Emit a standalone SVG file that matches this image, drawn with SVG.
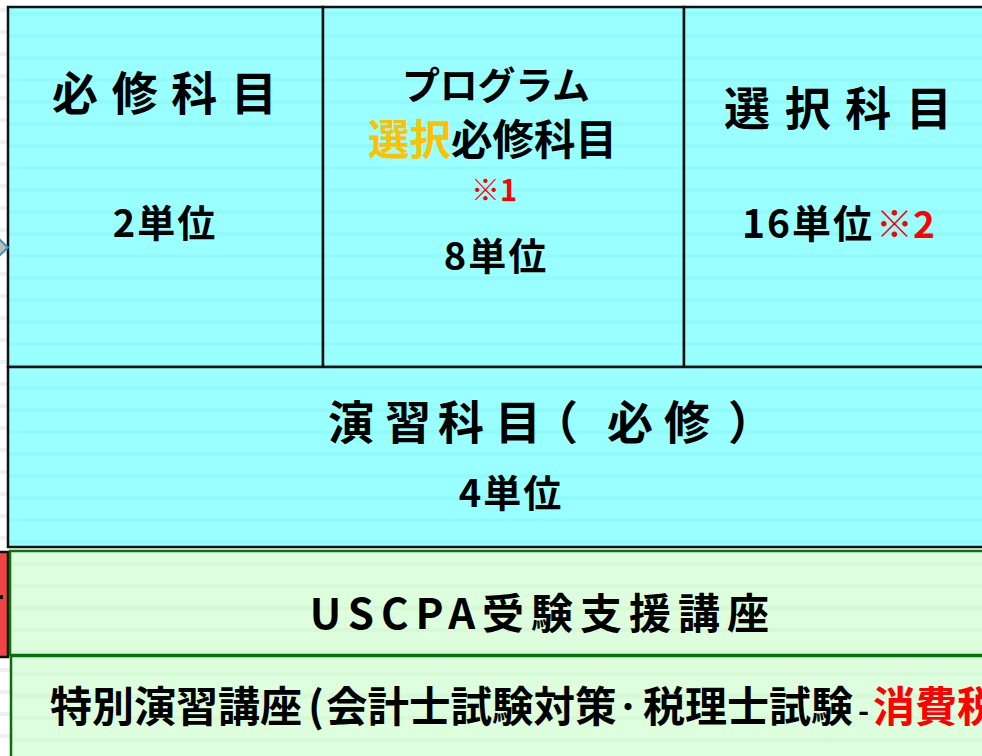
<svg xmlns="http://www.w3.org/2000/svg" width="982" height="756" viewBox="0 0 982 756">
<style>
.t{font-family:"Noto Sans CJK JP","Noto Sans",sans-serif;font-weight:bold;fill:#000}
.m{text-anchor:middle}
.r{fill:#FF0000}
.o{fill:#FFC000}
.cy{fill:url(#cy);stroke:#111;stroke-width:2.5}
.gr{fill:url(#gr);stroke:#0A700A;stroke-width:2.5}
</style>
<defs>
<pattern id="bg" width="22" height="22" patternUnits="userSpaceOnUse"><rect width="22" height="22" fill="#FFFFFF"/><rect y="8" width="22" height="4" fill="#F0F0F0"/></pattern>
<pattern id="cy" width="22" height="22" patternUnits="userSpaceOnUse"><rect width="22" height="22" fill="#99FFFF"/><rect y="12" width="22" height="4" fill="#93FAFA"/></pattern>
<pattern id="gr" width="22" height="22" patternUnits="userSpaceOnUse"><rect width="22" height="22" fill="#DDFFDD"/><rect y="12" width="22" height="4" fill="#D7F9D7"/></pattern>
</defs>
<rect width="982" height="756" fill="url(#bg)"/>
<g id="n-hisshu">
<rect class="cy" x="8" y="7" width="315" height="360"/>
<text class="t" x="52" y="110" font-size="46" textLength="225" lengthAdjust="spacing">必 修 科 目</text>
<text class="t m" x="165" y="237" font-size="38" letter-spacing="2">2単位</text>
</g>
<g id="n-program">
<rect class="cy" x="323" y="7" width="361" height="360"/>
<text class="t" x="402" y="99" font-size="38" textLength="188" lengthAdjust="spacing">プログラム</text>
<text class="t" x="368" y="155" font-size="41.5"><tspan class="o">選択</tspan>必修科目</text>
<text class="t r m" x="494" y="201" font-size="29">※1</text>
<text class="t m" x="496" y="270" font-size="38" letter-spacing="2">8単位</text>
</g>
<g id="n-sentaku">
<rect class="cy" x="684" y="7" width="330" height="360"/>
<text class="t" x="724" y="125" font-size="46" textLength="228" lengthAdjust="spacing">選 択 科 目</text>
<text class="t" x="742" y="238" font-size="39" letter-spacing="2">16単位</text>
<text class="t r" x="876" y="238" font-size="37">※2</text>
</g>
<g id="n-enshu">
<rect class="cy" x="8" y="367" width="1006" height="180"/>
<text class="t" x="328 385 438 495 532 607 664 728" y="439" font-size="46">演習科目（必修）</text>
<text class="t m" x="511" y="507" font-size="38" letter-spacing="2">4単位</text>
</g>
<g id="n-red">
<rect x="-4" y="552" width="12" height="105" fill="#EE4444" stroke="#111" stroke-width="2.5"/>
<rect x="0" y="595" width="3" height="4" fill="#111"/>
</g>
<g id="n-uscpa">
<rect class="gr" x="10" y="551" width="1004" height="104"/>
<text class="t m" x="543" y="629" font-size="42" letter-spacing="7">USCPA受験支援講座</text>
</g>
<g id="n-tokubetsu">
<rect class="gr" x="11" y="656" width="1004" height="120"/>
<text class="t" y="722" font-size="42"><tspan x="50">特別演習講座</tspan><tspan x="308">(</tspan><tspan x="326" font-size="41.5">会計士試験対策</tspan><tspan x="614" dy="-4" font-size="28">・</tspan><tspan x="643" dy="4">税理士試験</tspan><tspan x="858" font-size="30">-</tspan><tspan x="873" class="r">消費税</tspan></text>
</g>
<g id="connectors">
<polygon points="-1,239 8,247.5 -1,256" fill="#BBBBBB" stroke="#2E9AB8" stroke-width="2"/>
</g>
</svg>
